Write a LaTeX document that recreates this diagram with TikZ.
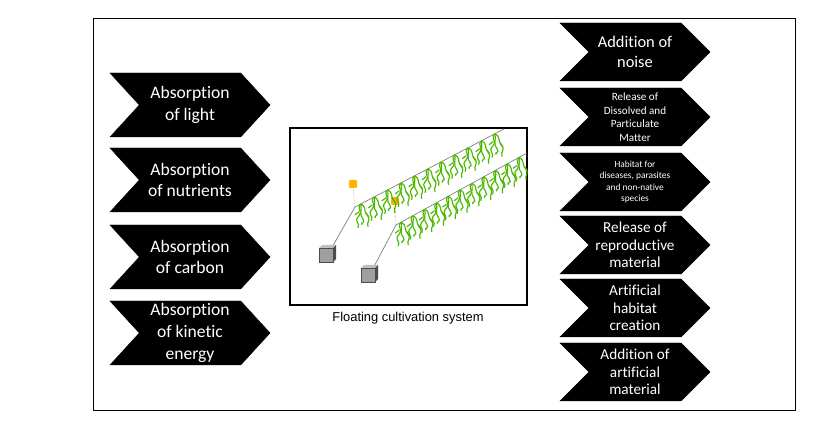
\documentclass[tikz,border=0pt]{standalone}
\usepackage{fontspec}
\setmainfont[Ligatures=NoCommon]{Carlito}
\setsansfont{Liberation Sans}
\usetikzlibrary{shapes.symbols,calc,positioning}

\tikzset{
	chev/.style={signal, signal from=west, signal to=east, signal pointer angle=95, fill=black, draw=black, text=white, align=center, inner sep=0pt, minimum width=160*0.03cm, minimum height=64*0.03cm, font=\fontsize{15}{18.5}\selectfont},
	rchev/.style={chev, signal pointer angle=90, minimum width=150*0.03cm, minimum height=58*0.03cm},
	weed/.style={draw=green!60!black!70!yellow, line width=1pt, fill=none},
	anchorbox/.style={fill=gray!75, draw=gray!60!black, line width=0.3pt},
}

\begin{document}
\begin{tikzpicture}[x=0.03cm, y=-0.03cm]
	\useasboundingbox (0,0) rectangle (830,429);
	\draw[thick] (93,18) rectangle (795,410);
	% left column
	\node[chev] (light) at (190,105) {Absorption\\of light};
	\node[chev] (nutr) at (190,180) {Absorption\\of nutrients};
	\node[chev] (carb) at (190,257) {Absorption\\of carbon};
	\node[chev] (kin) at (190,333) {Absorption\\of kinetic\\energy};
	% right column
	\node[rchev, font=\fontsize{14}{17}\selectfont] (noise) at (635,52) {Addition of\\noise};
	\node[rchev, font=\fontsize{9.5}{11.5}\selectfont] (dissolved) at (635,117) {Release of\\Dissolved and\\Particulate\\Matter};
	\node[rchev, font=\fontsize{8}{9.5}\selectfont] (habitat) at (635,182) {Habitat for\\diseases, parasites\\and non-native\\species};
	\node[rchev, font=\fontsize{13}{15}\selectfont] (repro) at (635,245) {Release of\\reproductive\\material};
	\node[rchev, font=\fontsize{13}{15}\selectfont] (artif) at (635,308) {Artificial\\habitat\\creation};
	\node[rchev, font=\fontsize{13}{15}\selectfont] (addmat) at (635,372) {Addition of\\artificial\\material};
	% central cultivation system
	\draw[line width=1.2pt] (290,128) rectangle (527,305);
	\node[font=\sffamily\fontsize{11}{13}\selectfont] (caption) at (408,318) {Floating cultivation system};
	\coordinate (bA) at (355,207);
	\coordinate (eA) at (504,129);
	\coordinate (bB) at (396,225);
	\coordinate (eB) at (527,153);
	\coordinate (kA) at (327,256);
	\coordinate (kB) at (369,276);
	\draw[gray, line width=0.6pt] (kA) -- (bA) -- (eA);
	\draw[gray, line width=0.6pt] (kB) -- (bB) -- (eB);
	\draw[gray, densely dotted] (bA) -- (353,186);
	\draw[gray, densely dotted] (bB) -- (395,202);
	\fill[orange!60!yellow, rounded corners=1pt] (349,180) rectangle (357,188);
	\fill[orange!60!yellow, rounded corners=1pt] (391,197) rectangle (399,205);
	\foreach \k in {kA,kB}{
		\filldraw[anchorbox] ([shift={(-8,-8)}]\k) rectangle ([shift={(6,6)}]\k);
		\fill[gray!50] ([shift={(-8,-8)}]\k) -- ([shift={(-5,-11)}]\k) -- ([shift={(9,-11)}]\k) -- ([shift={(6,-8)}]\k) -- cycle;
		\fill[gray!60!black] ([shift={(6,-8)}]\k) -- ([shift={(9,-11)}]\k) -- ([shift={(9,3)}]\k) -- ([shift={(6,6)}]\k) -- cycle;
	}
	% seaweed hanging from the lines
	\foreach \b/\e in {bA/eA,bB/eB}{
		\foreach \t in {0.04,0.13,...,1.0}{
			\draw[weed] ($(\b)!\t!(\e)$) .. controls +(-5,5) and +(4,-6) .. +(-2,12) .. controls +(-6,6) and +(3,-5) .. +(-3,24);
			\draw[weed] ($(\b)!\t!(\e)$) .. controls +(6,4) and +(-4,-6) .. +(6,11) .. controls +(5,6) and +(-2,-6) .. +(7,23);
			\draw[weed] ($(\b)!\t!(\e)$) .. controls +(1,6) and +(-4,-4) .. +(2,15) .. controls +(3,5) and +(-2,-3) .. +(1,21);
			\draw[weed] ($(\b)!\t!(\e)+(-2,8)$) -- +(-4,3);
			\draw[weed] ($(\b)!\t!(\e)+(5,9)$) -- +(3,4);
		}
	}
\end{tikzpicture}
\end{document}
